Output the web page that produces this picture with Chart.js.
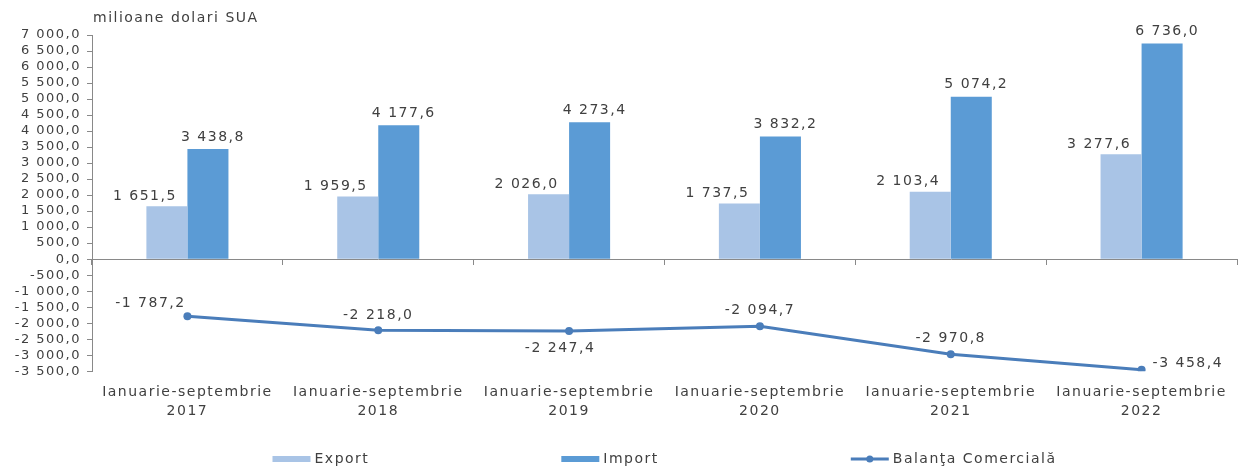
<!DOCTYPE html>
<html lang="ro">
<head>
<meta charset="utf-8">
<title>Comert exterior ianuarie-septembrie</title>
<script src="https://cdn.jsdelivr.net/npm/chart.js@4.4.1/dist/chart.umd.min.js"></script>
<style>
  html, body { margin: 0; padding: 0; background: #fff; }
  #wrap { width: 1241px; height: 468px; position: relative; }
</style>
</head>
<body>
<div id="wrap"><canvas id="chart"></canvas></div>
<script>
// Perioade (axa X)
const perioade = ['2017', '2018', '2019', '2020', '2021', '2022'];
const prefixPerioada = 'Ianuarie-septembrie';

// Valori, milioane dolari SUA
const exportVal = [1651.5, 1959.5, 2026.0, 1737.5, 2103.4, 3277.6];
const importVal = [3438.8, 4177.6, 4273.4, 3832.2, 5074.2, 6736.0];
const balantaVal = [-1787.2, -2218.0, -2247.4, -2094.7, -2970.8, -3458.4];

// Axa Y
const yMin = -3500;
const yMax = 7000;
const yPas = 500;

const FONT = 'DejaVu Sans';
const TEXT = '#404040';
const AXA = '#898989';
const SPATIERE = '1.5px';

// format romanesc: 1 651,5
function fmt(v) {
    const semn = v < 0 ? '-' : '';
    const parti = Math.abs(v).toFixed(1).split('.');
    const intreg = parti[0].replace(/\B(?=(\d{3})+(?!\d))/g, ' ');
    return semn + intreg + ',' + parti[1];
}

// spatiere intre litere (fontul original e foarte lat)
const spatiere = {
    id: 'spatiere',
    beforeUpdate(chart) { chart.ctx.letterSpacing = SPATIERE; },
    beforeLayout(chart) { chart.ctx.letterSpacing = SPATIERE; },
    beforeDraw(chart) { chart.ctx.letterSpacing = SPATIERE; }
};

// etichetele cu valori
const etichete = {
    id: 'etichete',
    afterDatasetsDraw(chart, args, opts) {
        const ctx = chart.ctx;
        ctx.save();
        ctx.letterSpacing = SPATIERE;
        ctx.font = '14px "' + FONT + '"';
        ctx.fillStyle = TEXT;
        ctx.textBaseline = 'middle';
        chart.data.datasets.forEach((ds, i) => {
            const meta = chart.getDatasetMeta(i);
            const dep = opts.deplasari[i];
            meta.data.forEach((el, j) => {
                const d = dep.length > 1 ? dep[j] : dep[0];
                ctx.textAlign = d[2] || 'center';
                ctx.fillText(fmt(ds.data[j]), el.x + d[0], el.y + d[1]);
            });
        });
        ctx.restore();
    }
};

// titlul axei si legenda
const legenda = {
    id: 'legenda',
    afterDraw(chart, args, opts) {
        const ctx = chart.ctx;
        const a = chart.chartArea;
        ctx.save();
        ctx.letterSpacing = SPATIERE;
        ctx.font = '14px "' + FONT + '"';
        ctx.textBaseline = 'middle';
        ctx.fillStyle = TEXT;
        ctx.textAlign = 'left';
        ctx.fillText(opts.titlu, a.left + 1, opts.yTitlu);

        const items = chart.data.datasets.map(ds => ({
            ds: ds,
            w: opts.boxW + opts.gapText + ctx.measureText(ds.label).width
        }));
        const total = items.reduce((s, it) => s + it.w, 0) + opts.pad * (items.length - 1);
        let x = (a.left + a.right) / 2 - total / 2;
        const y = chart.height - opts.jos;
        items.forEach(it => {
            const ds = it.ds;
            if (ds.type === 'line') {
                ctx.strokeStyle = ds.borderColor;
                ctx.lineWidth = ds.borderWidth;
                ctx.beginPath();
                ctx.moveTo(x, y);
                ctx.lineTo(x + opts.boxW, y);
                ctx.stroke();
                ctx.fillStyle = ds.borderColor;
                ctx.beginPath();
                ctx.arc(x + opts.boxW / 2, y, 3.5, 0, Math.PI * 2);
                ctx.fill();
            } else {
                ctx.fillStyle = ds.backgroundColor;
                ctx.fillRect(x, y - opts.boxH / 2, opts.boxW, opts.boxH);
            }
            ctx.fillStyle = TEXT;
            ctx.fillText(ds.label, x + opts.boxW + opts.gapText, y);
            x += it.w + opts.pad;
        });
        ctx.restore();
    }
};

const ctx = document.getElementById('chart').getContext('2d');
const grafic = new Chart(ctx, {
    type: 'bar',
    data: {
        labels: perioade.map(p => [prefixPerioada, p]),
        datasets: [{
            label: 'Export',
            data: exportVal,
            backgroundColor: '#A9C4E6',
            xAxisID: 'x',
            yAxisID: 'y',
            categoryPercentage: 0.43,
            barPercentage: 1.0
        }, {
            label: 'Import',
            data: importVal,
            backgroundColor: '#5B9BD5',
            xAxisID: 'x',
            yAxisID: 'y',
            categoryPercentage: 0.43,
            barPercentage: 1.0
        }, {
            type: 'line',
            label: 'Balanţa Comercială',
            data: balantaVal,
            borderColor: '#4A7DBA',
            backgroundColor: '#4A7DBA',
            borderWidth: 3,
            pointRadius: 4,
            pointBackgroundColor: '#4A7DBA',
            pointBorderWidth: 0,
            tension: 0,
            xAxisID: 'x',
            yAxisID: 'y'
        }]
    },
    options: {
        responsive: true,
        maintainAspectRatio: false,
        animation: false,
        layout: { padding: { top: 35, right: 1, bottom: 35, left: 0 } },
        plugins: {
            legend: { display: false },
            tooltip: { enabled: false },
            etichete: {
                deplasari: [
                    [[-22, -10]],
                    [[5, -12]],
                    [[-37, -13], [0, -15], [-9, 17], [0, -16], [0, -16], [11, -7, 'left']]
                ]
            },
            legenda: { titlu: 'milioane dolari SUA', yTitlu: 18, boxW: 38, boxH: 6, gapText: 4, pad: 192, jos: 9 }
        },
        scales: {
            x: {
                position: 'bottom',
                grid: { display: false, drawTicks: false },
                border: { display: false },
                ticks: {
                    color: TEXT,
                    font: { family: FONT, size: 14, lineHeight: 1.35 },
                    padding: 12,
                    maxRotation: 0,
                    autoSkip: false
                }
            },
            xz: {
                type: 'category',
                position: { y: 0 },
                grid: { offset: true, drawOnChartArea: false, color: AXA, tickLength: 5 },
                border: { color: AXA },
                ticks: { display: false }
            },
            y: {
                min: yMin,
                max: yMax,
                grid: { drawOnChartArea: false, color: AXA, tickLength: 5 },
                border: { color: AXA },
                ticks: {
                    stepSize: yPas,
                    autoSkip: false,
                    color: TEXT,
                    font: { family: FONT, size: 13 },
                    padding: 6,
                    callback: v => fmt(v)
                },
                afterFit: s => { s.width = 92; }
            }
        }
    },
    plugins: [spatiere, etichete, legenda]
});
</script>
</body>
</html>
